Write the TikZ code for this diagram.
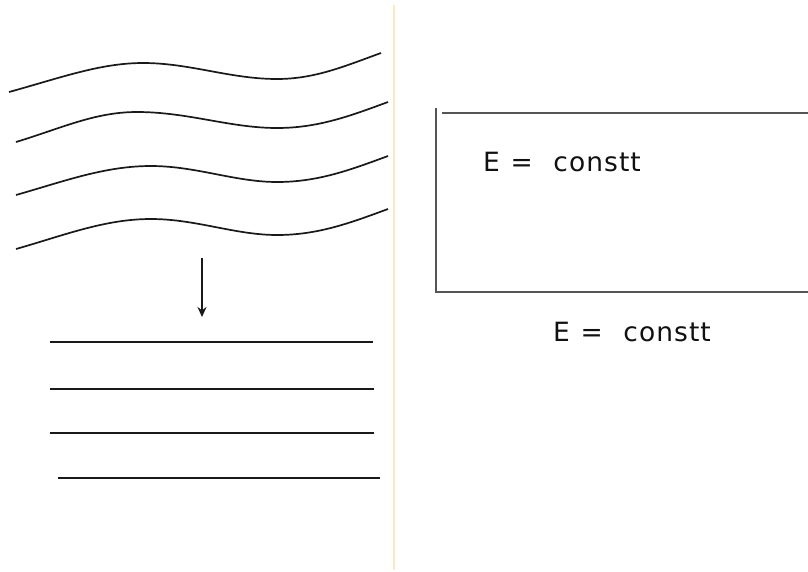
\documentclass[tikz,border=0pt]{standalone}
\usepackage{fontspec}
\setmainfont{DejaVu Sans}[LetterSpace=4]
\usetikzlibrary{arrows.meta}
\definecolor{divider}{HTML}{FDE8C4}
\definecolor{boxgray}{HTML}{555555}
\definecolor{txt}{HTML}{111111}
\tikzset{
  wave/.style={line width=1.7pt, black!90},
  flat/.style={line width=1.7pt, black!90},
  boxline/.style={line width=1.2pt, boxgray},
  label/.style={font=\fontsize{26.5}{30}\selectfont, text=txt, anchor=base west, inner sep=0pt},
}
\begin{document}
\begin{tikzpicture}[x=1pt,y=-1pt]
\useasboundingbox (0,0) rectangle (808,571);
% divider
\draw[divider, line width=1.6pt] (394,5) -- (394,570);
% waves
\draw[wave] (9,92) .. controls (60,78) and (100,63) .. (143,63)
  .. controls (190,63) and (230,79) .. (277,79)
  .. controls (315,79) and (345,66) .. (381,53);
\draw[wave] (16,142) .. controls (62,128) and (95,112) .. (137,112)
  .. controls (188,112) and (230,128) .. (277,128)
  .. controls (318,128) and (350,116) .. (388,102);
\draw[wave] (16,195) .. controls (65,181) and (105,166) .. (151,166)
  .. controls (196,166) and (235,182) .. (277,182)
  .. controls (318,182) and (350,170) .. (388,156);
\draw[wave] (16,249) .. controls (65,235) and (105,219) .. (151,219)
  .. controls (196,219) and (235,235) .. (277,235)
  .. controls (318,235) and (350,223) .. (388,209);
% arrow
\coordinate (a1) at (202,258);
\coordinate (a2) at (202,317);
\draw[line width=1.7pt, black!90, -{Stealth[length=10pt,width=9pt]}] (a1) -- (a2);
% flat lines
\draw[flat] (50,342) -- (373,342);
\draw[flat] (50,389) -- (374,389);
\draw[flat] (50,433) -- (374,433);
\draw[flat] (58,478) -- (380,478);
% box
\draw[boxline] (436,108) -- (436,292) -- (808,292);
\draw[boxline] (442,113) -- (808,113);
% labels
\node[label] (e1) at (483,171) {E\hspace{0.4em}=\hspace{0.78em}constt};
\node[label] (e2) at (553,341) {E\hspace{0.4em}=\hspace{0.78em}constt};
\end{tikzpicture}
\end{document}
